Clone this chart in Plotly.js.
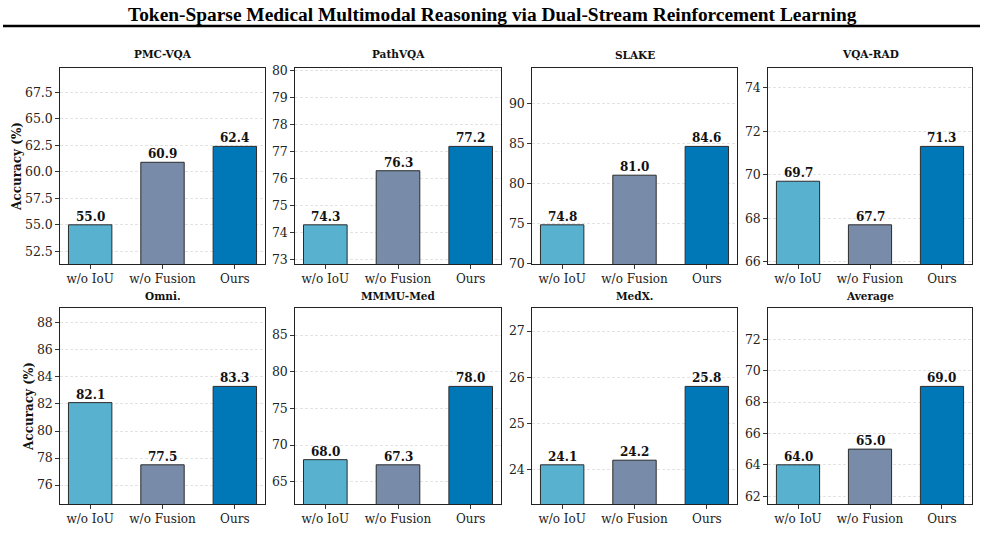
<!DOCTYPE html>
<html>
<head>
<meta charset="utf-8">
<script src="https://cdn.plot.ly/plotly-3.0.1.min.js"></script>
<style>html,body{margin:0;padding:0;background:#fff;}#chart{width:985px;height:543px;}</style>
</head>
<body>
<div id="chart"></div>
<script>
// ---- data ----
const methods = ["w/o IoU", "w/o Fusion", "Ours"];
const datasets = ["PMC-VQA", "PathVQA", "SLAKE", "VQA-RAD", "Omni.", "MMMU-Med", "MedX.", "Average"];
const woIoU    = [55.0, 74.3, 74.8, 69.7, 82.1, 68.0, 24.1, 64.0];
const woFusion = [60.9, 76.3, 81.0, 67.7, 77.5, 67.3, 24.2, 65.0];
const ours     = [62.4, 77.2, 84.6, 71.3, 83.3, 78.0, 25.8, 69.0];
const yTickVals = [
  [52.5, 55.0, 57.5, 60.0, 62.5, 65.0, 67.5],
  [73, 74, 75, 76, 77, 78, 79, 80],
  [70, 75, 80, 85, 90],
  [66, 68, 70, 72, 74],
  [76, 78, 80, 82, 84, 86, 88],
  [65, 70, 75, 80, 85],
  [24, 25, 26, 27],
  [62, 64, 66, 68, 70, 72]
];
const yTickText = [
  ["52.5", "55.0", "57.5", "60.0", "62.5", "65.0", "67.5"],
  ["73", "74", "75", "76", "77", "78", "79", "80"],
  ["70", "75", "80", "85", "90"],
  ["66", "68", "70", "72", "74"],
  ["76", "78", "80", "82", "84", "86", "88"],
  ["65", "70", "75", "80", "85"],
  ["24", "25", "26", "27"],
  ["62", "64", "66", "68", "70", "72"]
];
const chartTitle = "Token-Sparse Medical Multimodal Reasoning via Dual-Stream Reinforcement Learning";
const yTitle = "Accuracy (%)";

// ---- styles / layout ----
const W = 985, H = 543;
const barColors = ["#58b2cf", "#788ba8", "#0077b6"];
const serif = "DejaVu Serif, serif";
const colPx = [[60, 265], [295, 501], [532, 737], [768, 972]];
const rowPx = [[68, 264], [308, 504]];
const titleRowPx = [55, 296];

const traces = [];
const layout = {
  width: W, height: H,
  margin: {l: 0, r: 0, t: 0, b: 0},
  paper_bgcolor: "#fff", plot_bgcolor: "#fff",
  showlegend: false,
  annotations: [],
  shapes: [{
    type: "line", xref: "paper", yref: "paper",
    x0: 3 / W, x1: 980 / W, y0: 1 - 26 / H, y1: 1 - 26 / H,
    line: {color: "#000", width: 2.5}
  }]
};

layout.annotations.push({
  text: "<b>" + chartTitle + "</b>", xref: "paper", yref: "paper",
  x: 0.5, y: 1 - 14 / H, xanchor: "center", yanchor: "middle", showarrow: false,
  font: {family: "Liberation Serif, Times New Roman, serif", size: 19.4, color: "#000"}
});

datasets.forEach((name, i) => {
  const r = Math.floor(i / 4), c = i % 4;
  const n = i + 1;
  const xa = "x" + (n === 1 ? "" : n), ya = "y" + (n === 1 ? "" : n);
  const vals = [woIoU[i], woFusion[i], ours[i]];
  const mn = Math.min(...vals), mx = Math.max(...vals), d = mx - mn;
  traces.push({
    type: "bar", x: methods, y: vals, xaxis: xa, yaxis: ya,
    width: 0.6,
    marker: {color: barColors, line: {color: "#2b2b2b", width: 1}},
    hoverinfo: "skip"
  });
  const xKey = "xaxis" + (n === 1 ? "" : n), yKey = "yaxis" + (n === 1 ? "" : n);
  layout[xKey] = {
    domain: [colPx[c][0] / W, colPx[c][1] / W],
    anchor: ya, range: [-0.417, 2.417], type: "category",
    showline: true, mirror: true, linecolor: "#222", linewidth: 1.2,
    ticks: "outside", ticklen: 3.5, tickcolor: "#333", tickwidth: 1,
    showgrid: false, zeroline: false,
    tickfont: {family: serif, size: 12, color: "#222"}
  };
  layout[yKey] = {
    domain: [1 - rowPx[r][1] / H, 1 - rowPx[r][0] / H],
    anchor: xa, range: [mn - 0.5 * d, mx + d],
    tickvals: yTickVals[i], ticktext: yTickText[i],
    showline: true, mirror: true, linecolor: "#222", linewidth: 1.2,
    ticks: "outside", ticklen: 3.5, tickcolor: "#333", tickwidth: 1,
    showgrid: true, gridcolor: "#dcdcdc", gridwidth: 0.8, griddash: "3px,2px",
    zeroline: false,
    tickfont: {family: serif, size: 12.5, color: "#222"}
  };
  if (c === 0) {
    layout[yKey].title = {text: "<b>" + yTitle + "</b>", standoff: 0,
      font: {family: serif, size: 12, color: "#111"}};
  }
  layout.annotations.push({
    text: "<b>" + name + "</b>", xref: "paper", yref: "paper",
    x: (colPx[c][0] + colPx[c][1]) / 2 / W, y: 1 - titleRowPx[r] / H,
    xanchor: "center", yanchor: "middle", showarrow: false,
    font: {family: serif, size: 10.5, color: "#111"}
  });
  vals.forEach((v, k) => {
    layout.annotations.push({
      text: "<b>" + v.toFixed(1) + "</b>", xref: xa, yref: ya,
      x: methods[k], y: v, xanchor: "center", yanchor: "bottom",
      yshift: -1, showarrow: false,
      font: {family: serif, size: 12, color: "#111"}
    });
  });
});

Plotly.newPlot("chart", traces, layout, {displayModeBar: false, staticPlot: true});
</script>
</body>
</html>
